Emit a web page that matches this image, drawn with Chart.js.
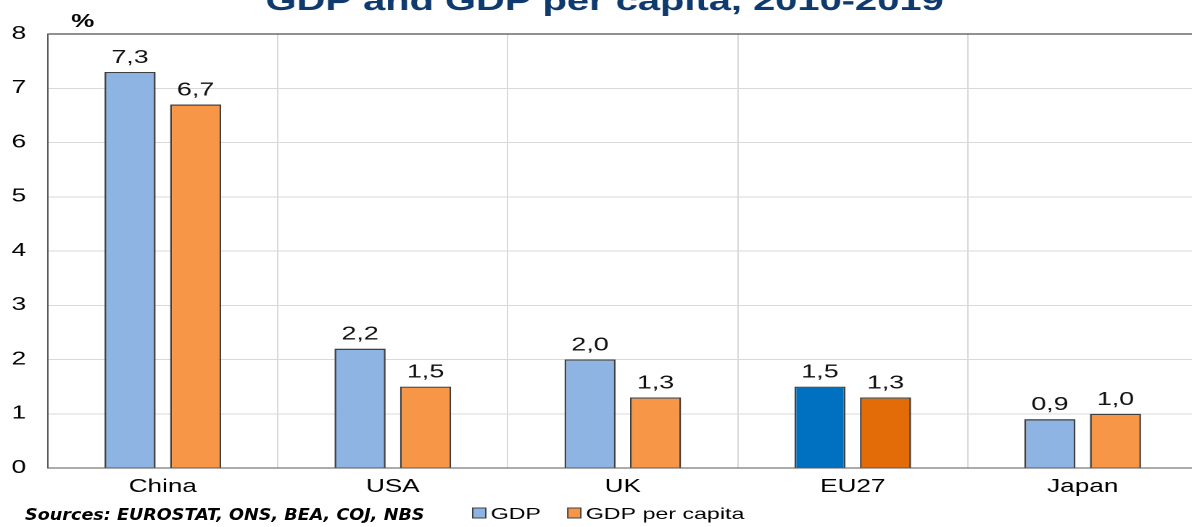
<!DOCTYPE html>
<html>
<head>
<meta charset="utf-8">
<script src="https://cdn.jsdelivr.net/npm/chart.js@4.4.1/dist/chart.umd.min.js"></script>
<style>
  html, body { margin: 0; padding: 0; background: #fff; overflow: hidden; }
  body { width: 1192px; height: 527px; position: relative; }
  /* the reference is a horizontally stretched export, so stretch the canvas too */
  #wrap { position: absolute; left: 0; top: 0; width: 830px; height: 527px; transform: scaleX(1.45); transform-origin: 0 0; }
  #sources { position: absolute; left: 25px; top: 505px; font: italic bold 16px "DejaVu Sans"; color: #000; white-space: nowrap; transform: scaleX(1.1); transform-origin: 0 0; }
</style>
</head>
<body>
<div id="wrap"><canvas id="gdpChart" width="830" height="527"></canvas></div>
<div id="sources">Sources: EUROSTAT, ONS, BEA, COJ, NBS</div>
<script>
const countries = ["China", "USA", "UK", "EU27", "Japan"];
const gdpGrowth = [7.3, 2.2, 2.0, 1.5, 0.9];
const gdpPerCapitaGrowth = [6.7, 1.5, 1.3, 1.3, 1.0];
const yMin = 0, yMax = 8, yStep = 1;

const font = "'Liberation Sans', Arial, sans-serif";
const lightBlue = "#8EB4E3", darkBlue = "#0070C0";
const lightOrange = "#F79646", darkOrange = "#E36C09";
// EU27 is highlighted with darker shades
const colorsFor = (light, dark) => countries.map(c => c === "EU27" ? dark : light);

const fmt = v => v.toFixed(1).replace(".", ",");

const annotations = {
  id: "annotations",
  afterDatasetsDraw(chart) {
    const ctx = chart.ctx;
    ctx.save();
    ctx.font = "18.5px " + font;
    ctx.fillStyle = "#111";
    ctx.textAlign = "center";
    ctx.textBaseline = "alphabetic";
    chart.data.datasets.forEach((ds, di) => {
      chart.getDatasetMeta(di).data.forEach((bar, i) => {
        ctx.fillText(fmt(ds.data[i]), bar.x, bar.y - 9);
      });
    });
    ctx.restore();
  },
  afterDraw(chart) {
    const ctx = chart.ctx;
    ctx.save();
    // title (cut off at the top, as in the source)
    ctx.font = "bold 27.5px " + font;
    ctx.fillStyle = "#0E3A6E";
    ctx.textAlign = "center";
    ctx.textBaseline = "alphabetic";
    ctx.fillText("GDP and GDP per capita, 2010-2019", 417, 10);

    // unit
    ctx.font = "bold 18px " + font;
    ctx.fillStyle = "#000";
    ctx.fillText("%", 57, 27);

    // legend
    ctx.font = "16px " + font;
    ctx.textAlign = "left";
    let x = 326;
    chart.data.datasets.forEach(ds => {
      ctx.fillStyle = ds.legendColor;
      ctx.fillRect(x, 508, 9, 10);
      ctx.strokeStyle = "#404040";
      ctx.lineWidth = 1;
      ctx.strokeRect(x, 508, 9, 10);
      ctx.fillStyle = "#000";
      ctx.fillText(ds.label, x + 12.4, 519);
      x += 12.4 + ctx.measureText(ds.label).width + 18.5;
    });
    ctx.restore();
  }
};

new Chart(document.getElementById("gdpChart"), {
  type: "bar",
  data: {
    labels: countries,
    datasets: [
      { label: "GDP", data: gdpGrowth, backgroundColor: colorsFor(lightBlue, darkBlue), legendColor: lightBlue, borderColor: "#404040", borderWidth: 1.3 },
      { label: "GDP per capita", data: gdpPerCapitaGrowth, backgroundColor: colorsFor(lightOrange, darkOrange), legendColor: lightOrange, borderColor: "#404040", borderWidth: 1.3 }
    ]
  },
  options: {
    responsive: false,
    devicePixelRatio: 2,
    animation: false,
    layout: { padding: { top: 34, right: 4, left: 0, bottom: 0 } },
    datasets: { bar: { barPercentage: 0.78, categoryPercentage: 0.57 } },
    plugins: { legend: { display: false }, tooltip: { enabled: false }, title: { display: false } },
    scales: {
      x: {
        offset: true,
        grid: { color: "#D9D9D9", drawTicks: false, offset: true },
        border: { color: "#595959", width: 1 },
        ticks: { color: "#000", font: { family: font, size: 18 }, padding: 8 },
        afterFit: s => { s.height = 59; }
      },
      y: {
        min: yMin, max: yMax,
        ticks: { stepSize: yStep, color: "#000", font: { family: font, size: 18 }, padding: 15 },
        grid: { color: c => c.tick && c.tick.value === yMax ? "#222" : "#D9D9D9", drawTicks: false },
        border: { color: "#595959", width: 1 },
        afterFit: s => { s.width = 33; }
      }
    }
  },
  plugins: [annotations]
});
</script>
</body>
</html>
